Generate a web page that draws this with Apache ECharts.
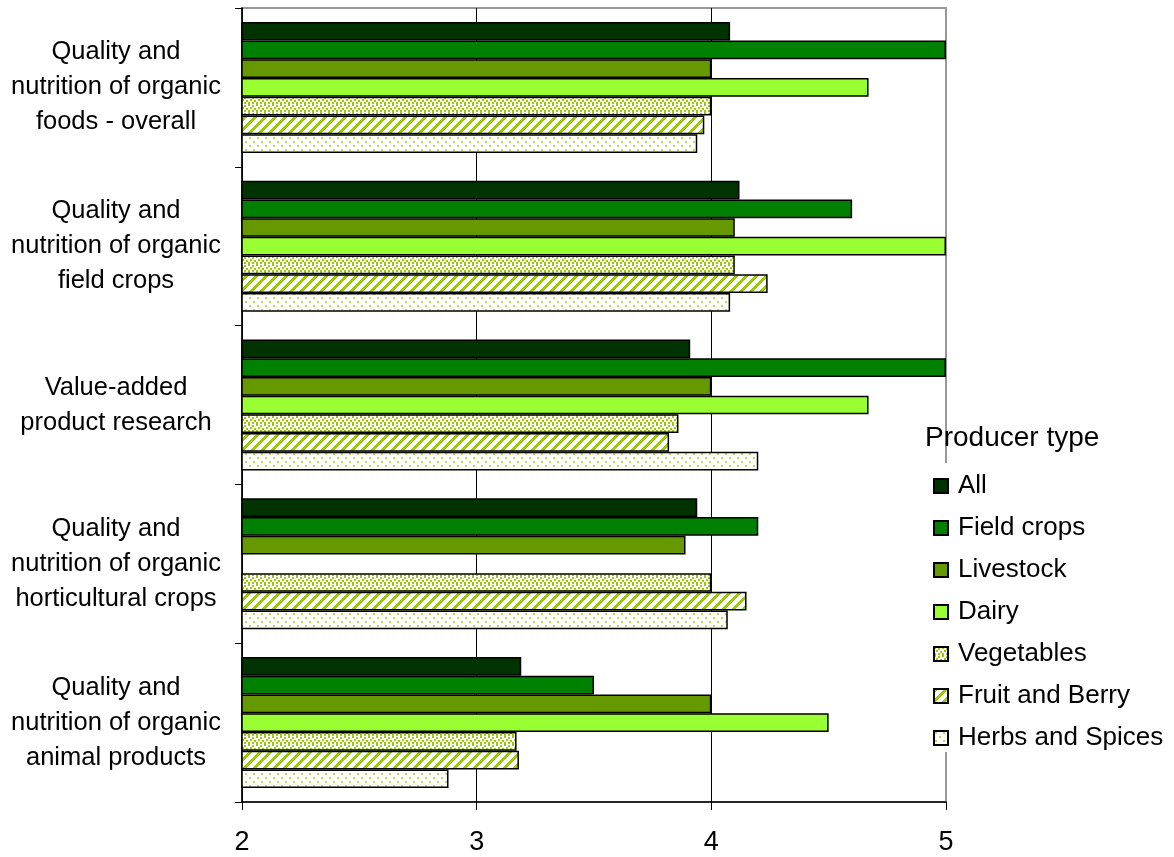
<!DOCTYPE html>
<html>
<head>
<meta charset="utf-8">
<script src="https://cdn.jsdelivr.net/npm/echarts@6/dist/echarts.min.js"></script>
<style>
html,body{margin:0;padding:0;background:#fff;}
#chart{width:1174px;height:857px;}
</style>
</head>
<body>
<div id="chart"></div>
<script>
var categories = [
  "Quality and\nnutrition of organic\nfoods - overall",
  "Quality and\nnutrition of organic\nfield crops",
  "Value-added\nproduct research",
  "Quality and\nnutrition of organic\nhorticultural crops",
  "Quality and\nnutrition of organic\nanimal products"
];
var seriesNames = ["All", "Field crops", "Livestock", "Dairy", "Vegetables", "Fruit and Berry", "Herbs and Spices"];
var allValues        = [4.08, 4.12, 3.91, 3.94, 3.19];
var fieldCropValues  = [5.00, 4.60, 5.00, 4.20, 3.50];
var livestockValues  = [4.00, 4.10, 4.00, 3.89, 4.00];
var dairyValues      = [4.67, 5.00, 4.67, null, 4.50];
var vegetableValues  = [4.00, 4.10, 3.86, 4.00, 3.17];
var fruitValues      = [3.97, 4.24, 3.82, 4.15, 3.18];
var herbValues       = [3.94, 4.08, 4.20, 4.07, 2.88];
var xTicks = [2, 3, 4, 5];

function makePattern(size, drawFn) {
  var c = document.createElement('canvas');
  c.width = size; c.height = size;
  var ctx = c.getContext('2d');
  ctx.fillStyle = '#ffffff';
  ctx.fillRect(0, 0, size, size);
  drawFn(ctx);
  return { image: c, repeat: 'repeat' };
}
var pGreen = '#99cc00';
var vegPattern = makePattern(8, function (ctx) {
  ctx.fillStyle = pGreen;
  [[0,0],[4,1],[2,3],[6,4],[0,6],[4,6]].forEach(function (p) { ctx.fillRect(p[0], p[1], 2, 2); });
});
var fruitPattern = makePattern(10, function (ctx) {
  ctx.fillStyle = pGreen;
  for (var x = 0; x < 10; x++) for (var y = 0; y < 10; y++) {
    if (((x + y) % 10) < 4) ctx.fillRect(x, y, 1, 1);
  }
});
var herbPattern = makePattern(8, function (ctx) {
  ctx.fillStyle = '#b8dc55';
  [[1,1],[5,5]].forEach(function (p) { ctx.fillRect(p[0], p[1], 2, 2); });
});

var colors = ['#003300', '#008000', '#669900', '#99ff33', vegPattern, fruitPattern, herbPattern];
var valueLists = [allValues, fieldCropValues, livestockValues, dairyValues, vegetableValues, fruitValues, herbValues];
var FONT = "'Liberation Sans', Arial, sans-serif";

var series = seriesNames.map(function (name, i) {
  return {
    name: name,
    type: 'bar',
    data: valueLists[i],
    barGap: '0%',
    barCategoryGap: '17.5%',
    itemStyle: { color: colors[i], borderColor: '#000', borderWidth: 1.5 },
    emphasis: { disabled: true }
  };
});

var chart = echarts.init(document.getElementById('chart'), null, { renderer: 'canvas' });
chart.setOption({
  animation: false,
  backgroundColor: '#fff',
  title: {
    text: 'Producer type',
    left: 920, top: 419,
    textStyle: { fontFamily: FONT, fontSize: 28, fontWeight: 'normal', color: '#000' }
  },
  legend: {
    orient: 'vertical',
    left: 920, top: 463,
    padding: [10, 5, 1, 13],
    backgroundColor: '#fff',
    itemWidth: 14, itemHeight: 14,
    itemGap: 16,
    icon: 'rect',
    textStyle: { fontFamily: FONT, fontSize: 26, color: '#000', padding: [0, 0, 0, 5] },
    data: seriesNames
  },
  grid: {
    left: 242, right: 228, top: 8, bottom: 55,
    show: true, borderColor: '#999', borderWidth: 2,
    containLabel: false
  },
  xAxis: {
    type: 'value',
    min: xTicks[0], max: xTicks[xTicks.length - 1], interval: 1,
    axisLine: { show: true, lineStyle: { color: '#000', width: 1.5 } },
    axisTick: { show: true, length: 8, lineStyle: { color: '#000' } },
    splitLine: { show: true, lineStyle: { color: ['#000', '#000', '#000', 'rgba(0,0,0,0)'], width: 1 } },
    axisLabel: { fontFamily: FONT, fontSize: 27, color: '#000', margin: 27 }
  },
  yAxis: {
    type: 'category',
    inverse: true,
    data: categories,
    axisLine: { show: true, lineStyle: { color: '#000', width: 1.5 } },
    axisTick: { show: true, length: 7, lineStyle: { color: '#000' } },
    axisLabel: {
      fontFamily: FONT, fontSize: 25.5, color: '#000',
      lineHeight: 35, align: 'center', margin: 126
    }
  },
  series: series
});
</script>
</body>
</html>
